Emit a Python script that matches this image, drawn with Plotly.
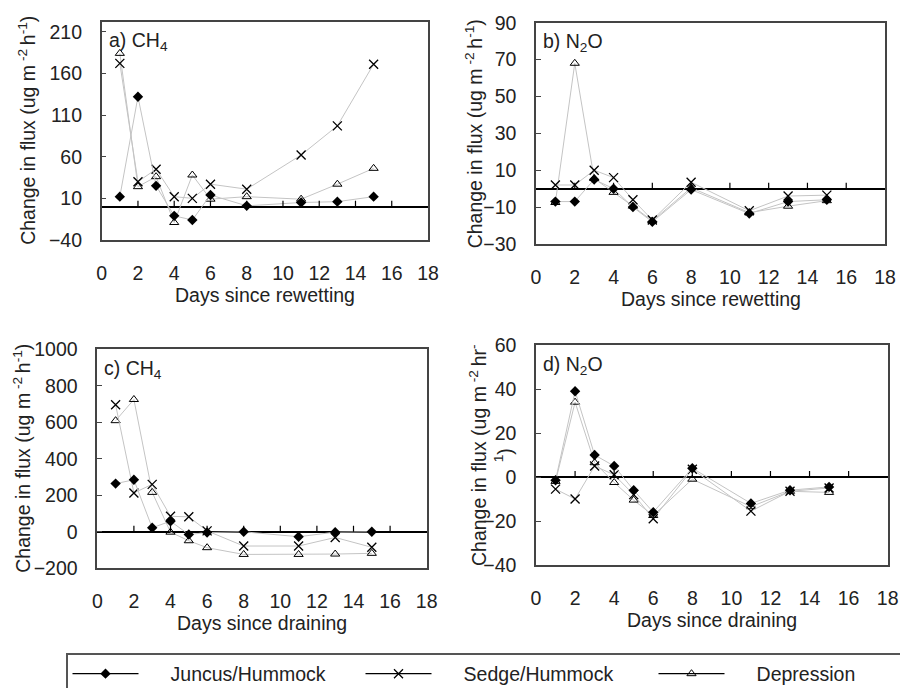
import plotly.graph_objects as go

W, H = 900, 688

days = [1, 2, 3, 4, 5, 6, 8, 11, 13, 15]

# a) CH4, days since rewetting
a_juncus = [12, 132, 25, -11, -16, 14, 1, 5, 6, 12]
a_sedge = [172, 30, 45, 12, 10, 27, 21, 62, 97, 171]
a_depression = [184, 24, 36, -19, 38, 9, 12, 9, 27, 46]

# b) N2O, days since rewetting
b_juncus = [-7, -7, 5, 0, -10, -18, -0.5, -13.5, -7, -6]
b_sedge = [2, 2, 10, 6, -6, -17, 3.5, -12, -4, -3.5]
b_depression = [-7.5, 68, 5.5, -2, -9.5, -17.5, 0.5, -13, -9.5, -6.5]

# c) CH4, days since draining
c_juncus = [264, 285, 22, 58, -15, -4, 0, -27, -2, 0]
c_sedge = [696, 213, 260, 85, 82, 5, -78, -78, -31, -85]
c_depression = [609, 725, 216, -2, -49, -87, -124, -124, -122, -118]

# d) N2O, days since draining
d_juncus = [-1.5, 39, 10, 5, -6, -16, 4, -12, -6, -4.5]
d_sedge = [-5.5, -10, 5, 1, -8, -19, 3.5, -15.5, -6.5, -5]
d_depression = [-2, 34, 6.5, -2.5, -10.5, -17.5, -1, -13.5, -6.5, -7]

series_names = ["Juncus/Hummock", "Sedge/Hummock", "Depression"]
x_ticks = list(range(0, 19, 2))

FONT = "Liberation Sans, Arial, sans-serif"
FS = 19.5
TXT = "#222222"
LINE_GRAY = "#c4c4c4"
AX = "#444444"

panels = [
    dict(key="", data=(a_juncus, a_sedge, a_depression), yr=[-40, 222], y0=-40, dy=50,
         box=(101.7, 428, 21.7, 240), label="a) CH<sub>4</sub>", xt="Days since rewetting",
         yt="Change in flux (ug m<sup> -2 </sup>h<sup>-1</sup>)", ytx=27),
    dict(key="2", data=(b_juncus, b_sedge, b_depression), yr=[-30, 90], y0=-30, dy=20,
         box=(536, 885, 22.7, 244), label="b) N<sub>2</sub>O", xt="Days since rewetting",
         yt="Change in flux (ug m<sup> -2 </sup>h<sup>-1</sup>)", ytx=474),
    dict(key="3", data=(c_juncus, c_sedge, c_depression), yr=[-200, 1000], y0=-200, dy=200,
         box=(97.3, 426.7, 349.3, 568.3), label="c) CH<sub>4</sub>", xt="Days since draining",
         yt="Change in flux (ug m<sup> -2 </sup>h<sup>-1</sup>)", ytx=22),
    dict(key="4", data=(d_juncus, d_sedge, d_depression), yr=[-40, 60], y0=-40, dy=20,
         box=(536, 887.7, 345, 565), label="d) N<sub>2</sub>O", xt="Days since draining",
         yt="Change in flux (ug m<sup> -2 </sup>hr<sup>-</sup><br><sup>1</sup>)", ytx=491),
]

markers = [
    dict(symbol="diamond", size=8, color="black", line=dict(width=0)),
    dict(symbol="x-thin-open", size=9, color="black", line=dict(width=1.3, color="black")),
    dict(symbol="triangle-up-open", size=8, color="black", line=dict(width=1, color="black")),
]

fig = go.Figure()
annotations = []
shapes = []
layout_axes = {}

for p in panels:
    k = p["key"]
    l, r, t, b = p["box"]
    xa = "x" + k
    ya = "y" + k
    # draw depression first, juncus last (on top)
    for idx in [2, 1, 0]:
        fig.add_trace(go.Scatter(
            x=days, y=p["data"][idx], mode="lines+markers",
            line=dict(color=LINE_GRAY, width=1),
            marker=markers[idx], name=series_names[idx],
            showlegend=False, xaxis=xa, yaxis=ya, cliponaxis=False))
    layout_axes["xaxis" + k] = dict(
        domain=[l / W, r / W], anchor=ya, range=[0, 18], tickvals=x_ticks,
        showline=True, mirror=True, linecolor=AX, linewidth=1.5,
        ticks="", showgrid=False, zeroline=False, automargin=False,
        tickfont=dict(family=FONT, size=FS, color=TXT), ticklabelstandoff=15)
    layout_axes["yaxis" + k] = dict(
        domain=[1 - b / H, 1 - t / H], anchor=xa, range=p["yr"],
        tick0=p["y0"], dtick=p["dy"], tickmode="linear",
        showline=True, mirror=True, linecolor=AX, linewidth=1.5,
        ticks="inside", ticklen=5, tickcolor=AX, tickwidth=1.2, automargin=False,
        showgrid=False, zeroline=True, zerolinecolor="black", zerolinewidth=1.5,
        tickfont=dict(family=FONT, size=FS, color=TXT), ticklabelstandoff=14)
    # small tick marks on the zero line
    for xv in x_ticks[1:-1]:
        shapes.append(dict(type="line", xref=xa, yref=ya, ysizemode="pixel", yanchor=0,
                           x0=xv, x1=xv, y0=0, y1=6, line=dict(color="black", width=1.2)))
    annotations.append(dict(text=p["label"], xref="paper", yref="paper",
                            x=(l + 5) / W, y=1 - (t + 20) / H, xanchor="left", yanchor="middle",
                            showarrow=False, font=dict(family=FONT, size=FS, color=TXT)))
    annotations.append(dict(text=p["xt"], xref="paper", yref="paper",
                            x=(l + r) / 2 / W, y=1 - (b + 55) / H, xanchor="center", yanchor="middle",
                            showarrow=False, font=dict(family=FONT, size=FS, color=TXT)))
    annotations.append(dict(text=p["yt"], xref="paper", yref="paper", textangle=-90,
                            x=p["ytx"] / W, y=1 - (t + b) / 2 / H, xanchor="center", yanchor="middle",
                            showarrow=False, font=dict(family=FONT, size=FS, color=TXT)))

# legend-only entries (black line samples)
for idx in range(3):
    fig.add_trace(go.Scatter(x=[None], y=[None], mode="lines+markers",
                             line=dict(color="black", width=1.3), marker=markers[idx],
                             name="\u00a0\u00a0\u00a0\u00a0\u00a0" + series_names[idx], showlegend=True))

fig.update_layout(
    width=W, height=H, margin=dict(l=0, r=0, t=0, b=0, autoexpand=False),
    paper_bgcolor="white", plot_bgcolor="white",
    annotations=annotations, shapes=shapes,
    legend=dict(orientation="h", x=66 / W, y=1 - 653 / H, xanchor="left", yanchor="top",
                bordercolor="#555555", borderwidth=1.5, itemwidth=66,
                entrywidth=212, entrywidthmode="pixels",
                font=dict(family=FONT, size=FS, color=TXT)),
    **layout_axes,
)

fig.write_html("out.html")
